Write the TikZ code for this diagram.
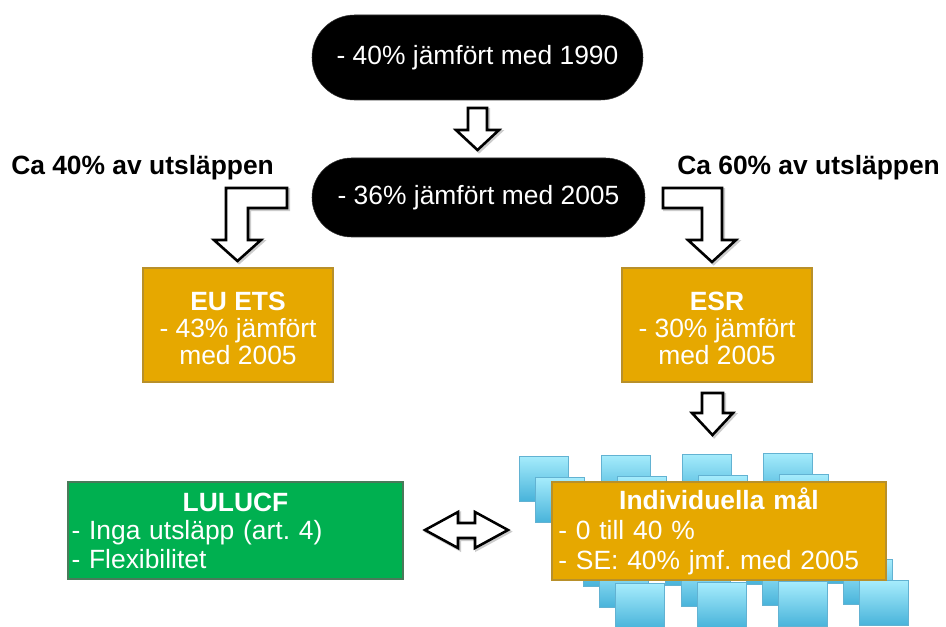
\documentclass[tikz,border=0pt]{standalone}
\usepackage{fontspec}
\setmainfont{Liberation Sans}
\usetikzlibrary{shapes.misc}
\frenchspacing
\definecolor{orangebox}{HTML}{E6A800}
\definecolor{orangeedge}{HTML}{B8902A}
\definecolor{greenbox}{HTML}{00B050}
\definecolor{greenedge}{HTML}{4A7A5A}
\definecolor{sqtop}{HTML}{A6ECFC}
\definecolor{sqbot}{HTML}{48B3DA}
\definecolor{sqedge}{HTML}{62B2D2}
\tikzset{
  pill/.style={rounded rectangle, fill=black, draw=black!80, text=white, inner sep=0pt,
    font=\fontsize{19.8}{22}\selectfont},
  obox/.style={rectangle, fill=orangebox, draw=orangeedge, line width=1.5pt, text=white, inner sep=0pt},
  gbox/.style={rectangle, fill=greenbox, draw=greenedge, line width=1.5pt, text=white, inner sep=0pt},
  blockarrow/.style={draw=black, fill=white, line width=1.9pt, line join=miter,
    preaction={draw=black!20, line width=2.2pt, transform canvas={shift={(1.2pt,-1.2pt)}}}},
  sq/.style={draw=sqedge, line width=0.5pt, top color=sqtop, bottom color=sqbot},
  lab/.style={font=\fontsize{19.8}{22}\selectfont\bfseries, inner sep=0pt, anchor=base west},
}
\begin{document}
\begin{tikzpicture}[x=0.75pt,y=-0.75pt]
\clip (0,0) rectangle (946,627);
\fill[white] (0,0) rectangle (946,627);

% pills
\node[pill, minimum width=248.25pt, minimum height=63.75pt] (p1) at (477.5,57.5) {- 40\% jämfört med 1990};
\node[pill, minimum width=249.75pt, minimum height=59.25pt] (p2) at (478.5,197.5) {- 36\% jämfört med 2005};

% labels
\node[lab] (l40) at (11,175) {Ca 40\% av utsläppen};
\node[lab] (l60) at (677,175) {Ca 60\% av utsläppen};

% top down arrow
\draw[blockarrow] (468,108) -- (487,108) -- (487,130) -- (499,130) -- (477.5,150) -- (456,130) -- (468,130) -- cycle;

% bent arrows
\draw[blockarrow] (287,188) -- (226,188) -- (226,240) -- (214,240) -- (237.5,261) -- (261,240) -- (248,240) -- (248,208) -- (287,208) -- cycle;
\draw[blockarrow] (663,188) -- (722,188) -- (722,240) -- (736,240) -- (712,262) -- (688,240) -- (702,240) -- (702,208) -- (663,208) -- cycle;

% EU ETS and ESR
\node[obox, minimum width=142.5pt, minimum height=85.5pt, align=center,
  font=\fontsize{19.8}{20.5}\selectfont] (ets) at (238,325)
  {\rule{0pt}{19pt}\textbf{EU ETS}\\- 43\% jämfört\\med 2005};
\node[obox, minimum width=142.5pt, minimum height=85.5pt, align=center,
  font=\fontsize{19.8}{20.5}\selectfont] (esr) at (717,325)
  {\rule{0pt}{19pt}\textbf{ESR}\\- 30\% jämfört\\med 2005};

% ESR down arrow
\draw[blockarrow] (702,393) -- (723,393) -- (723,413) -- (733,413) -- (712.5,435) -- (692,413) -- (702,413) -- cycle;

% blue squares
\foreach \cx/\cy in {519/456, 601/455, 682/454, 763/453}{
  \foreach \k in {0,...,6}{
    \path[sq] ({\cx+16*\k},{\cy+21.3*\k}) rectangle ++(49,45);
  }
}

% Individuella mål
\node[obox, minimum width=250.5pt, minimum height=73.5pt, text width=241pt, align=left,
  font=\fontsize{19.8}{22.5}\selectfont] (ind) at (719,531)
  {{\centering\textbf{Individuella mål}\par}- 0 till 40 \%\\- SE: 40\% jmf. med 2005};

% LULUCF
\node[gbox, minimum width=251.25pt, minimum height=72.75pt, text width=246pt, align=left,
  font=\fontsize{19.8}{21.4}\selectfont] (lul) at (235.5,530.5)
  {{\centering\textbf{LULUCF}\par}- Inga utsläpp (art.~4)\\- Flexibilitet};

% double arrow
\draw[blockarrow] (425,530) -- (458,512) -- (458,523) -- (475,523) -- (475,512) -- (508,530) -- (475,548) -- (475,538) -- (458,538) -- (458,548) -- cycle;
\end{tikzpicture}
\end{document}
